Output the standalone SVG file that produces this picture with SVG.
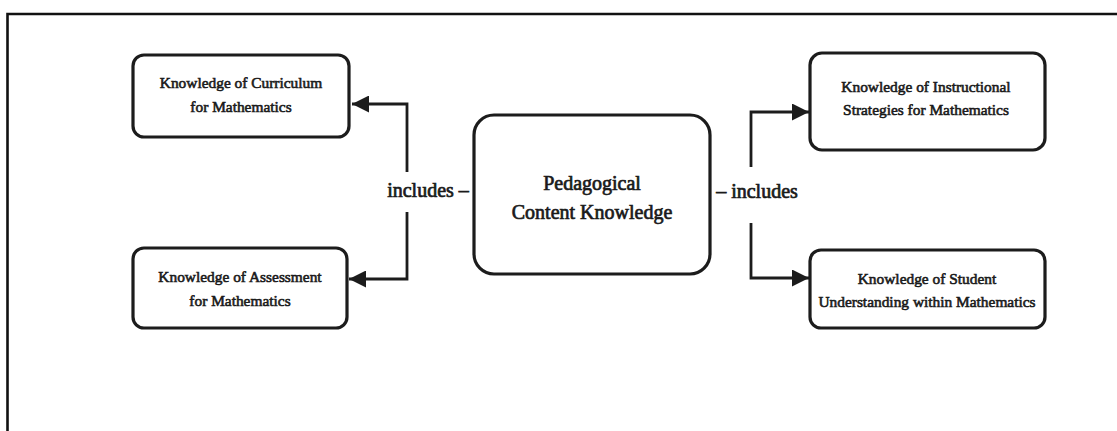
<svg xmlns="http://www.w3.org/2000/svg" width="1117" height="431" viewBox="0 0 1117 431">
<defs>
<style>
.box{fill:#fff;stroke:#1c1c1c;stroke-width:3.2}
.t{font-family:"Liberation Serif","Times New Roman",serif;fill:#1a1a1a;stroke:#1a1a1a;text-anchor:middle}
.s{font-size:15.4px;stroke-width:0.6}
.b{font-size:20px;stroke-width:0.7}
.conn{fill:none;stroke:#1c1c1c;stroke-width:2.8}
.frame{fill:none;stroke:#111;stroke-width:2.6}
</style>
<marker id="ah" markerWidth="17" markerHeight="17" refX="17" refY="8.5" orient="auto" markerUnits="userSpaceOnUse" viewBox="0 0 17 17">
<path d="M0,0 L17,8.5 L0,17 Z" fill="#1c1c1c"/>
</marker>
</defs>
<rect width="1117" height="431" fill="#fff"/>
<path class="frame" d="M7.5,431 V14 H1117"/>
<g id="connectors">
<path class="conn" d="M407,172 V104 H352" marker-end="url(#ah)"/>
<path class="conn" d="M407,212 V279 H349" marker-end="url(#ah)"/>
<path class="conn" d="M751,167 V112 H809" marker-end="url(#ah)"/>
<path class="conn" d="M751,223 V278 H809" marker-end="url(#ah)"/>
<text class="t b" x="428" y="197">includes –</text>
<text class="t b" x="757" y="198">– includes</text>
</g>
<g id="pck">
<rect class="box" x="474" y="115" width="236" height="159" rx="20"/>
<text class="t b" x="592" y="190">Pedagogical</text>
<text class="t b" x="592" y="219">Content Knowledge</text>
</g>
<g id="curriculum">
<rect class="box" x="133" y="55" width="216" height="82" rx="11"/>
<text class="t s" x="241" y="88">Knowledge of Curriculum</text>
<text class="t s" x="241" y="112">for Mathematics</text>
</g>
<g id="assessment">
<rect class="box" x="133" y="248" width="214" height="80" rx="11"/>
<text class="t s" x="240" y="282">Knowledge of Assessment</text>
<text class="t s" x="240" y="306">for Mathematics</text>
</g>
<g id="instructional">
<rect class="box" x="810" y="53" width="235" height="97" rx="12"/>
<text class="t s" x="926" y="92">Knowledge of Instructional</text>
<text class="t s" x="926" y="115">Strategies for Mathematics</text>
</g>
<g id="student">
<rect class="box" x="810" y="250" width="235" height="78" rx="11"/>
<text class="t s" x="927" y="284">Knowledge of Student</text>
<text class="t s" x="927" y="307">Understanding within Mathematics</text>
</g>
</svg>
